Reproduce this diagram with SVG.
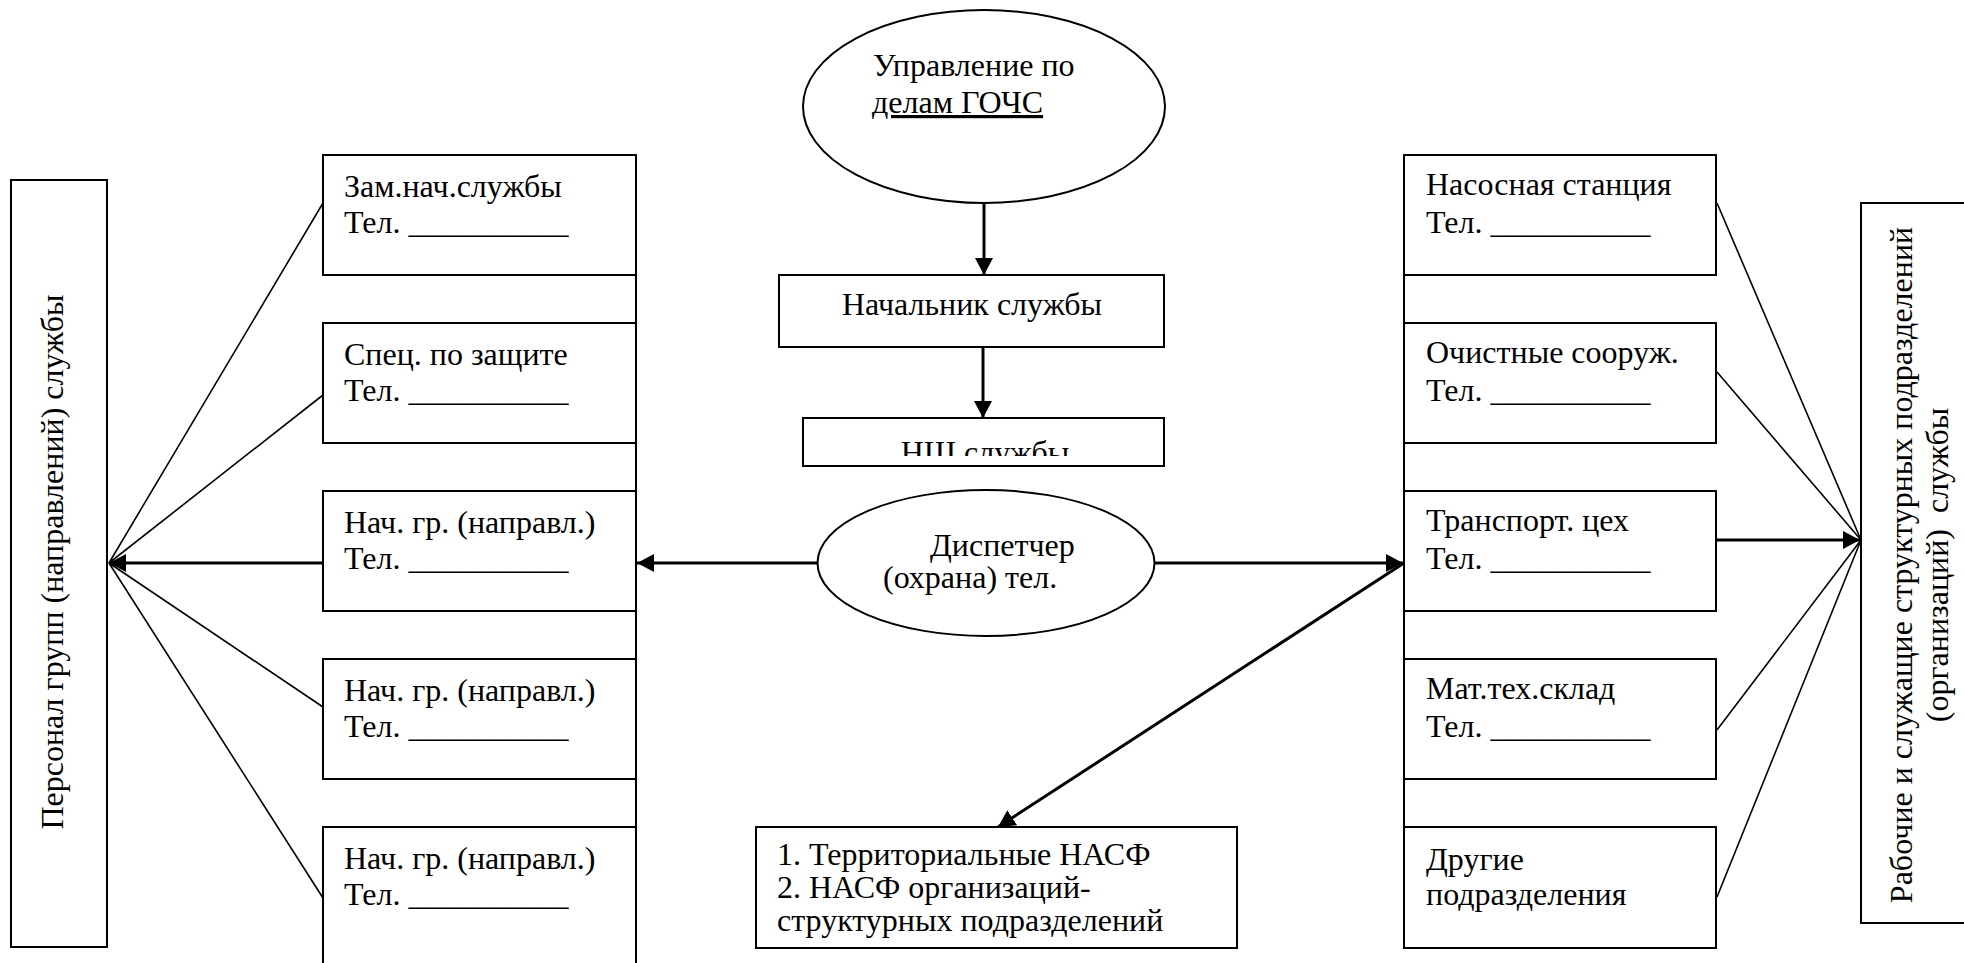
<svg xmlns="http://www.w3.org/2000/svg" width="1964" height="963" viewBox="0 0 1964 963">
<style>
text{font-family:"Liberation Serif","Times New Roman",serif;font-size:32px;fill:#000;white-space:pre}
.box{fill:#fff;stroke:#000;stroke-width:2}
.thin{fill:none;stroke:#000;stroke-width:1.6}
.thick{fill:none;stroke:#000;stroke-width:3}
.rail{fill:none;stroke:#000;stroke-width:2}
</style>
<defs>
<marker id="ah" markerUnits="userSpaceOnUse" markerWidth="18" markerHeight="20" viewBox="0 0 18 20" refX="17" refY="10" orient="auto">
<path d="M0,1 L17,10 L0,19 Z" fill="#000"/>
</marker>
<clipPath id="nshclip"><rect x="803" y="418" width="361" height="38"/></clipPath>
</defs>
<rect width="1964" height="963" fill="#fff"/>

<g id="connectors">
<line class="rail" x1="636" y1="155" x2="636" y2="963"/>
<line class="rail" x1="1404" y1="155" x2="1404" y2="948"/>
<line class="thin" x1="109" y1="563" x2="323" y2="203"/>
<line class="thin" x1="109" y1="563" x2="323" y2="395"/>
<line class="thin" x1="109" y1="563" x2="323" y2="707"/>
<line class="thin" x1="109" y1="563" x2="323" y2="898"/>
<line class="thick" x1="323" y1="563" x2="109" y2="563" marker-end="url(#ah)"/>
<line class="thin" x1="1717" y1="203" x2="1861" y2="540"/>
<line class="thin" x1="1717" y1="372" x2="1861" y2="540"/>
<line class="thin" x1="1717" y1="730" x2="1861" y2="540"/>
<line class="thin" x1="1717" y1="897" x2="1861" y2="540"/>
<line class="thick" x1="1717" y1="540" x2="1860" y2="540" marker-end="url(#ah)"/>
<line class="thick" x1="984" y1="203" x2="984" y2="275" marker-end="url(#ah)"/>
<line class="thick" x1="983" y1="347" x2="983" y2="418" marker-end="url(#ah)"/>
<line class="thick" x1="817" y1="563" x2="637" y2="563" marker-end="url(#ah)"/>
<line class="thick" x1="1154" y1="563" x2="1403" y2="563" marker-end="url(#ah)"/>
<line class="thick" x1="1404" y1="563" x2="998" y2="827" marker-end="url(#ah)"/>
</g>

<g id="personnel">
<rect class="box" x="11" y="180" width="96" height="767"/>
<text transform="translate(63,562) rotate(-90)" text-anchor="middle">Персонал групп (направлений) службы</text>
</g>

<g id="deputy">
<rect class="box" x="323" y="155" width="313" height="120"/>
<text x="344" y="197">Зам.нач.службы</text>
<text x="344" y="233">Тел. __________</text>
</g>
<g id="spec">
<rect class="box" x="323" y="323" width="313" height="120"/>
<text x="344" y="365">Спец. по защите</text>
<text x="344" y="401">Тел. __________</text>
</g>
<g id="group1">
<rect class="box" x="323" y="491" width="313" height="120"/>
<text x="344" y="533">Нач. гр. (направл.)</text>
<text x="344" y="569">Тел. __________</text>
</g>
<g id="group2">
<rect class="box" x="323" y="659" width="313" height="120"/>
<text x="344" y="701">Нач. гр. (направл.)</text>
<text x="344" y="737">Тел. __________</text>
</g>
<g id="group3">
<rect class="box" x="323" y="827" width="313" height="150"/>
<text x="344" y="869">Нач. гр. (направл.)</text>
<text x="344" y="905">Тел. __________</text>
</g>

<g id="gochs">
<ellipse class="box" cx="984" cy="106.5" rx="181" ry="96.5" stroke-width="1.6"/>
<text x="873" y="76">Управление по</text>
<text x="872" y="113" text-decoration="underline">делам ГОЧС</text>
</g>
<g id="chief">
<rect class="box" x="779" y="275" width="385" height="72"/>
<text x="972" y="315" text-anchor="middle">Начальник службы</text>
</g>
<g id="nsh">
<rect class="box" x="803" y="418" width="361" height="48"/>
<text x="985" y="463" text-anchor="middle" clip-path="url(#nshclip)">НШ службы</text>
</g>
<g id="dispatcher">
<ellipse class="box" cx="986" cy="563" rx="168.5" ry="73" stroke-width="1.6"/>
<text x="930" y="556">Диспетчер</text>
<text x="883" y="588">(охрана) тел.</text>
</g>
<g id="nasf">
<rect class="box" x="756" y="827" width="481" height="121"/>
<text x="777" y="865">1. Территориальные НАСФ</text>
<text x="777" y="898">2. НАСФ организаций-</text>
<text x="777" y="931">структурных подразделений</text>
</g>

<g id="pump">
<rect class="box" x="1404" y="155" width="312" height="120"/>
<text x="1426" y="195">Насосная станция</text>
<text x="1426" y="233">Тел. __________</text>
</g>
<g id="treatment">
<rect class="box" x="1404" y="323" width="312" height="120"/>
<text x="1426" y="363">Очистные сооруж.</text>
<text x="1426" y="401">Тел. __________</text>
</g>
<g id="transport">
<rect class="box" x="1404" y="491" width="312" height="120"/>
<text x="1426" y="531">Транспорт. цех</text>
<text x="1426" y="569">Тел. __________</text>
</g>
<g id="warehouse">
<rect class="box" x="1404" y="659" width="312" height="120"/>
<text x="1426" y="699">Мат.тех.склад</text>
<text x="1426" y="737">Тел. __________</text>
</g>
<g id="other">
<rect class="box" x="1404" y="827" width="312" height="121"/>
<text x="1426" y="870">Другие</text>
<text x="1426" y="905">подразделения</text>
</g>

<g id="workers">
<rect class="box" x="1861" y="203" width="120" height="720"/>
<text transform="translate(1912,565) rotate(-90)" text-anchor="middle">Рабочие и служащие структурных подразделений</text>
<text transform="translate(1948,565) rotate(-90)" text-anchor="middle">(организаций)  службы</text>
</g>
</svg>
